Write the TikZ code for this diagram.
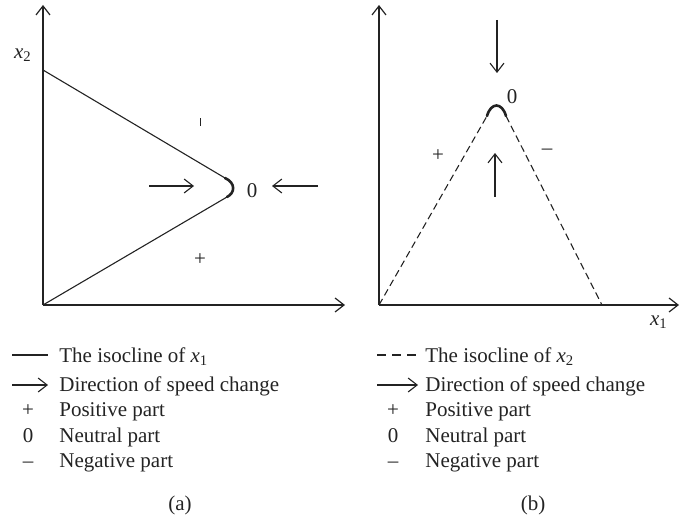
\documentclass[tikz,border=0pt]{standalone}
\usepackage{fontspec}
\setmainfont{Liberation Serif}
\usetikzlibrary{arrows.meta}
\definecolor{inkGray}{RGB}{35,35,35}

\tikzset{
  axis/.style={line width=0.6pt,inkGray,-{Straight Barb[length=4.5pt,width=7pt]}},
  speed/.style={line width=0.55pt,inkGray,-{Straight Barb[length=4.5pt,width=7pt]}},
  iso/.style={line width=0.55pt,inkGray},
  isodash/.style={line width=0.55pt,inkGray,dash pattern=on 3.5pt off 2pt},
  capline/.style={line width=1.3pt,inkGray,line cap=round},
  lbl/.style={font=\fontsize{10.5}{12}\selectfont,text=inkGray,inner sep=0pt},
  legtext/.style={lbl,anchor=base west},
  legsign/.style={lbl,anchor=base}
}

\begin{document}
\begin{tikzpicture}[x=0.5pt,y=-0.5pt]
    \useasboundingbox (0,0) rectangle (681,519);
    % (a) isocline of x1
    \coordinate (oA) at (43,305);
    \coordinate (yA) at (43,5);
    \coordinate (xA) at (345,305);
    \draw[axis] (oA) -- (yA);
    \draw[axis] (oA) -- (xA);
    \node[lbl] (x2lab) at (23,55) {\textit{x}\textsubscript{2}};
    \coordinate (topA) at (43,70);
    \coordinate (capAu) at (225,178);
    \coordinate (capAl) at (227,197);
    \draw[iso] (topA) -- (capAu);
    \draw[iso] (oA) -- (capAl);
    \draw[capline] (capAu) .. controls (236,183) and (235,193) .. (capAl);
    \coordinate (arAs) at (149,186);
    \coordinate (arAe) at (194,186);
    \coordinate (alAs) at (318,186);
    \coordinate (alAe) at (272,186);
    \draw[speed] (arAs) -- (arAe);
    \draw[speed] (alAs) -- (alAe);
    \node[lbl] (zeroA) at (252,191) {0};
    \node[lbl,text=inkGray] (negA) at (200,122) {\color{inkGray}\rule{0.5pt}{4.2pt}};
    \node[lbl] (posA) at (200,260) {+};

    % (b) isocline of x2
    \coordinate (oB) at (379,305);
    \coordinate (yB) at (379,5);
    \coordinate (xB) at (679,305);
    \draw[axis] (oB) -- (yB);
    \draw[axis] (oB) -- (xB);
    \node[lbl] (x1lab) at (659,322) {\textit{x}\textsubscript{1}};
    \coordinate (capBl) at (487,116);
    \coordinate (capBr) at (506,116);
    \coordinate (endB) at (602,305);
    \draw[isodash] (oB) -- (capBl);
    \draw[isodash] (capBr) -- (endB);
    \draw[capline] (capBl) .. controls (491,102) and (502,102) .. (capBr);
    \coordinate (adBs) at (497,20);
    \coordinate (adBe) at (497,73);
    \coordinate (auBs) at (495,197);
    \coordinate (auBe) at (495,153);
    \draw[speed] (adBs) -- (adBe);
    \draw[speed] (auBs) -- (auBe);
    \node[lbl] (zeroB) at (512,97) {0};
    \node[lbl] (posB) at (438,156) {+};
    \node[lbl] (negB) at (547,152) {\textendash};

    % legend (a)
    \coordinate (lnAs) at (12,355);
    \coordinate (lnAe) at (48,355);
    \draw[iso] (lnAs) -- (lnAe);
    \node[legtext] (isoA) at (59,362) {The isocline of \textit{x}\textsubscript{1}};
    \coordinate (laAs) at (12,385);
    \coordinate (laAe) at (48,385);
    \draw[speed] (laAs) -- (laAe);
    \node[legtext] (dirA) at (59,391) {Direction of speed change};
    \node[legsign] (sgpA) at (28,416) {+};
    \node[legtext] (ptpA) at (59,416) {Positive part};
    \node[legsign] (sgzA) at (28,442) {0};
    \node[legtext] (ptzA) at (59,442) {Neutral part};
    \node[legsign] (sgnA) at (28,467) {\textendash};
    \node[legtext] (ptnA) at (59,467) {Negative part};
    \node[legsign] (capA) at (180,510) {(a)};

    % legend (b)
    \coordinate (lnBs) at (377,355);
    \coordinate (lnBe) at (418,355);
    \draw[iso,dash pattern=on 4.5pt off 3pt] (lnBs) -- (lnBe);
    \node[legtext] (isoB) at (425,362) {The isocline of \textit{x}\textsubscript{2}};
    \coordinate (laBs) at (377,385);
    \coordinate (laBe) at (418,385);
    \draw[speed] (laBs) -- (laBe);
    \node[legtext] (dirB) at (425,391) {Direction of speed change};
    \node[legsign] (sgpB) at (393,416) {+};
    \node[legtext] (ptpB) at (425,416) {Positive part};
    \node[legsign] (sgzB) at (393,442) {0};
    \node[legtext] (ptzB) at (425,442) {Neutral part};
    \node[legsign] (sgnB) at (393,467) {\textendash};
    \node[legtext] (ptnB) at (425,467) {Negative part};
    \node[legsign] (capB) at (533,510) {(b)};
\end{tikzpicture}
\end{document}
